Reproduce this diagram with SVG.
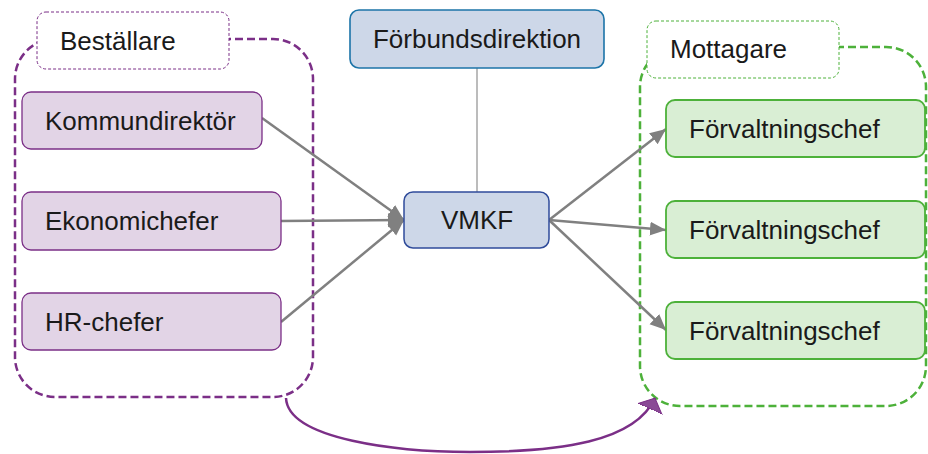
<svg xmlns="http://www.w3.org/2000/svg" width="928" height="454" viewBox="0 0 928 454">
<defs>
<style>
text{font-family:"Liberation Sans",Arial,sans-serif;font-size:26px;fill:#1a1a1a}
.p{fill:#e2d4e6;stroke:#7b2f87;stroke-width:1.3}
.g{fill:#d9eed4;stroke:#4db13a;stroke-width:1.8}
.b{fill:#cdd7e8;stroke:#1c74a8;stroke-width:1.6}
.conn{stroke:#808080;stroke-width:2.5;fill:none;marker-end:url(#ah)}
</style>
<marker id="ah" markerUnits="userSpaceOnUse" markerWidth="18" markerHeight="16" refX="16" refY="8" orient="auto">
<path d="M0,1 L16,8 L0,15 Z" fill="#808080"/>
</marker>
<marker id="ahp" markerUnits="userSpaceOnUse" markerWidth="16" markerHeight="28" refX="12" refY="14" orient="auto">
<path d="M0,1 L12,14 L0,27 Z" fill="#8a4a96" stroke="#7b2f87" stroke-width="1"/>
</marker>
</defs>
<g id="bestallare-group">
<rect x="15" y="39" width="298" height="358" rx="40" fill="none" stroke="#7b2f87" stroke-width="2.5" stroke-dasharray="8,4"/>
<rect x="37" y="12" width="192" height="57" rx="9" fill="#fff" stroke="#7b2f87" stroke-width="1" stroke-dasharray="3,2"/>
<text x="60" y="50">Beställare</text>
</g>
<g id="mottagare-group">
<rect x="640" y="47" width="286" height="359" rx="40" fill="none" stroke="#4db13a" stroke-width="2.5" stroke-dasharray="8,4"/>
<rect x="647" y="21" width="192" height="57" rx="9" fill="#fff" stroke="#4db13a" stroke-width="1" stroke-dasharray="3,2"/>
<text x="670" y="58">Mottagare</text>
</g>
<g id="connectors">
<line x1="477" y1="68" x2="477" y2="192" stroke="#a6a6a6" stroke-width="1.5"/>
<line class="conn" x1="262" y1="118" x2="404" y2="220"/>
<line class="conn" x1="281" y1="221" x2="404" y2="220"/>
<line class="conn" x1="281" y1="322" x2="404" y2="220"/>
<line class="conn" x1="549" y1="220" x2="666" y2="129"/>
<line class="conn" x1="549" y1="220" x2="666" y2="230"/>
<line class="conn" x1="549" y1="220" x2="666" y2="330"/>
<path d="M286,398 C288,440 400,452 470,452 C560,452 635,442 655,398" fill="none" stroke="#7b2f87" stroke-width="2.5" marker-end="url(#ahp)"/>
</g>
<g id="kommundirektor">
<rect class="p" x="22" y="92" width="240" height="57" rx="9"/>
<text x="45" y="130">Kommundirektör</text>
</g>
<g id="ekonomichefer">
<rect class="p" x="22" y="192" width="259" height="58" rx="9"/>
<text x="45" y="230">Ekonomichefer</text>
</g>
<g id="hr-chefer">
<rect class="p" x="22" y="293" width="259" height="57" rx="9"/>
<text x="45" y="331">HR-chefer</text>
</g>
<g id="forbundsdirektion">
<rect class="b" x="350" y="10" width="254" height="58" rx="9"/>
<text x="477" y="48" text-anchor="middle">Förbundsdirektion</text>
</g>
<g id="vmkf">
<rect x="404" y="192" width="145" height="56" rx="9" fill="#cdd7e8" stroke="#2f4b9a" stroke-width="1.5"/>
<text x="477" y="229" text-anchor="middle">VMKF</text>
</g>
<g id="forvaltningschef-1">
<rect class="g" x="666" y="100" width="259" height="57" rx="9"/>
<text x="689" y="138">Förvaltningschef</text>
</g>
<g id="forvaltningschef-2">
<rect class="g" x="666" y="201" width="259" height="57" rx="9"/>
<text x="689" y="239">Förvaltningschef</text>
</g>
<g id="forvaltningschef-3">
<rect class="g" x="666" y="302" width="259" height="57" rx="9"/>
<text x="689" y="340">Förvaltningschef</text>
</g>
</svg>
